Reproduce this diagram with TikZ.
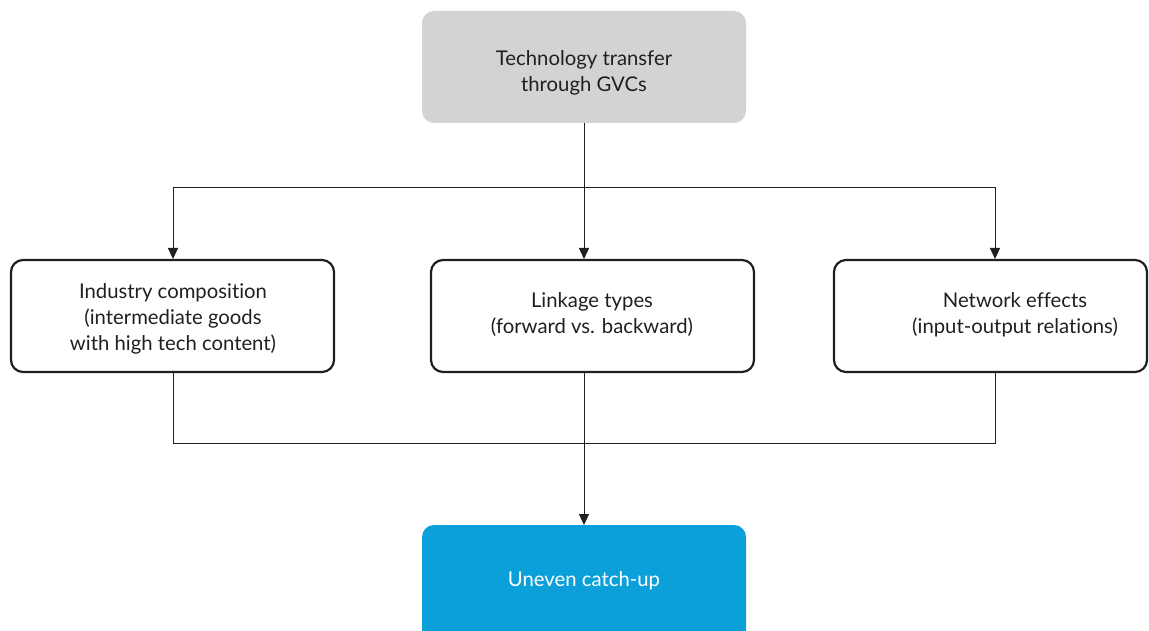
\documentclass[tikz,border=0pt]{standalone}
\usepackage{fontspec}
\setmainfont{Lato}[Ligatures=NoCommon]
\usetikzlibrary{arrows.meta}
\definecolor{txt}{HTML}{231F20}
\definecolor{greybox}{HTML}{D1D3D4}
\definecolor{bluebox}{HTML}{0CA0DB}
\begin{document}
\begin{tikzpicture}[x=1pt,y=-1pt,
  every node/.style={font=\fontsize{20.3}{26}\selectfont, text=txt, align=center},
  box/.style={rounded corners=12pt, inner sep=0pt},
  outlined/.style={box, draw=txt, line width=2.2pt, fill=white},
  link/.style={draw=txt, line width=1pt},
  arr/.style={link, -{Triangle[width=10pt,length=11pt]}}]
\useasboundingbox (0,0) rectangle (1149,631);
\clip (0,0) rectangle (1149,631);

% source and outcome
\path[box, fill=greybox] (422,11) rectangle (746,123);
\node (src) at (584,73) {Technology transfer\\through GVCs};
\coordinate (srcb) at (584,123);

\path[box, fill=bluebox] (422,525) rectangle (746,660);
\node[text=white] (out) at (584,581) {Uneven catch-up};
\coordinate (outt) at (584,525);

% three channels
\draw[outlined] (11,260) rectangle (334,372);
\node (ind) at (173,319) {Industry composition\\(intermediate goods\\with high tech content)};
\draw[outlined] (431,260) rectangle (754,372);
\node (lnk) at (592,315) {Linkage types\\(forward vs. backward)};
\draw[outlined] (834,260) rectangle (1147,372);
\node (net) at (1015,315) {Network effects\\(input-output relations)};

\coordinate (indt) at (173,259);
\coordinate (lnkt) at (584,259);
\coordinate (nett) at (995,259);
\coordinate (indb) at (173,373);
\coordinate (lnkb) at (584,373);
\coordinate (netb) at (995,373);
\coordinate (split) at (584,188);
\coordinate (merge) at (584,443);

% fan-out
\draw[link] (srcb) -- (split);
\draw[arr] (split) -| (indt);
\draw[arr] (split) -- (lnkt);
\draw[arr] (split) -| (nett);

% fan-in
\draw[link] (indb) |- (merge);
\draw[link] (netb) |- (merge);
\draw[link] (lnkb) -- (merge);
\draw[arr] (merge) -- (outt);
\end{tikzpicture}
\end{document}
